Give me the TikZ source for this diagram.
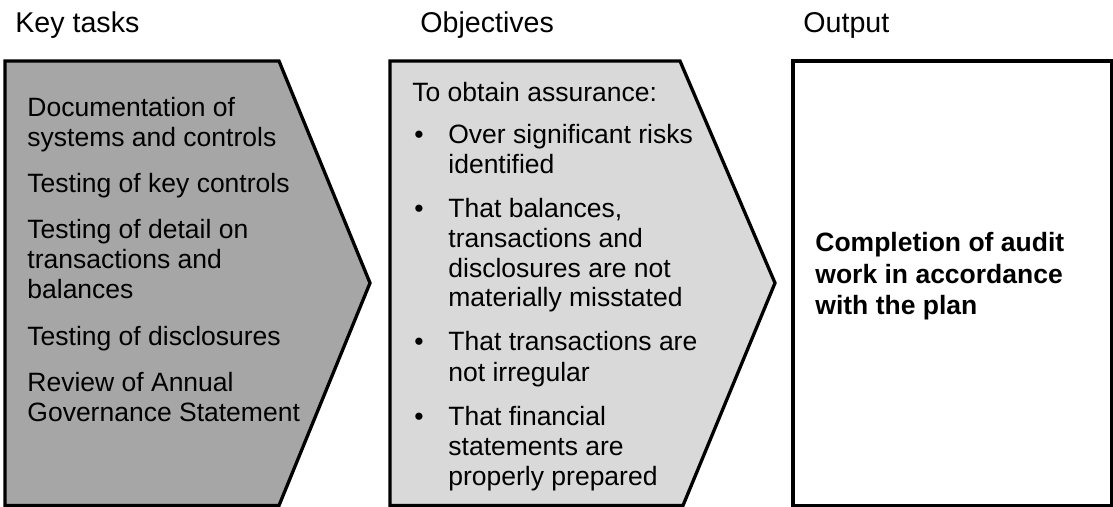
\documentclass[tikz,border=0pt]{standalone}
\usepackage{fontspec}
\setmainfont{Liberation Sans}

\definecolor{taskgray}{HTML}{A6A6A6}
\definecolor{aimgray}{HTML}{D9D9D9}

\newcommand{\blt}{\makebox[18pt][l]{\hspace{1pt}\textbullet}}
\newcommand{\ind}{\hspace*{18pt}}

\begin{document}
\begin{tikzpicture}[
	x=0.5pt, y=-0.5pt,
	panel/.style={
		draw=black,
		line width=1.65pt,
	},
	heading/.style={
		anchor=base west,
		inner sep=0pt,
		font=\fontsize{14.3}{17}\selectfont,
	},
	bodytext/.style={
		anchor=base west,
		inner sep=0pt,
		align=left,
		font=\fontsize{13.25}{15}\selectfont,
	},
]

\useasboundingbox (0,0) rectangle (1113,507);

\node[heading] (keyhd) at (15,33) {Key tasks};
\node[heading] (objhd) at (420,33) {Objectives};
\node[heading] (outhd) at (803,33) {Output};

\draw[panel, fill=taskgray] (5,61) -- (279,61) -- (370,283) -- (279,505.5) -- (5,505.5) -- cycle;
\draw[panel, fill=aimgray] (390,61) -- (680,61) -- (775,283) -- (683,505.5) -- (390,505.5) -- cycle;
\draw[panel, fill=white] (793,61) rectangle (1111.5,505.5);

% text nodes sit on the baseline of their last line
\node[bodytext] (tasks) at (27,421.7) {Documentation of\\systems and controls\\[8.2pt]
	Testing of key controls\\[8.2pt]
	Testing of detail on\\transactions and\\balances\\[8.2pt]
	Testing of disclosures\\[8.2pt]
	Review of Annual\\Governance Statement};

\node[bodytext] (aims) at (412,485) {To obtain assurance:\\[5.8pt]
	\blt Over significant risks\\\ind identified\\[7pt]
	\blt That balances,\\\ind transactions and\\\ind disclosures are not\\\ind materially misstated\\[7pt]
	\blt That transactions are\\\ind not irregular\\[7pt]
	\blt That financial\\\ind statements are\\\ind properly prepared};

\node[bodytext, font=\fontsize{13.25}{15.75}\selectfont\bfseries] (result) at (815,315)
	{Completion of audit\\work in accordance\\with the plan};

\end{tikzpicture}
\end{document}
